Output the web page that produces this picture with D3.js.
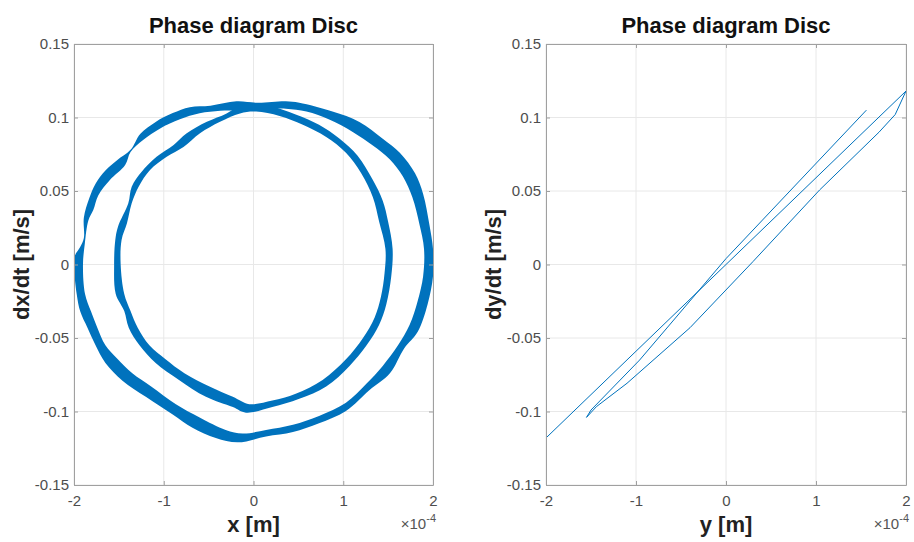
<!DOCTYPE html>
<html>
<head>
<meta charset="utf-8">
<script src="https://cdn.jsdelivr.net/npm/d3@7"></script>
<style>
  body { margin: 0; background: #fff; }
  svg { display: block; font-family: "Liberation Sans", Arial, sans-serif; }
</style>
</head>
<body>
<svg id="chart" width="914" height="542"></svg>
<script>
// positions are in units of 1e-4 m, velocities in m/s
const posTicks = [-2, -1, 0, 1, 2];
const posTickLabels = ['-2', '-1', '0', '1', '2'];
const velTicks = [-0.15, -0.1, -0.05, 0, 0.05, 0.1, 0.15];
const velTickLabels = ['-0.15', '-0.1', '-0.05', '0', '0.05', '0.1', '0.15'];

// x phase plot: envelope of the two thick bands
const bigRingOuter = [
  [-2.00, 0.000], [-1.99, 0.006], [-1.93, 0.012], [-1.89, 0.018], [-1.89, 0.032],
  [-1.83, 0.045], [-1.76, 0.055], [-1.65, 0.064], [-1.52, 0.071], [-1.37, 0.078],
  [-1.26, 0.089], [-1.09, 0.097], [-0.90, 0.103], [-0.71, 0.107], [-0.48, 0.108],
  [-0.19, 0.111], [0.05, 0.110], [0.36, 0.111], [0.51, 0.110], [0.88, 0.104],
  [1.18, 0.097], [1.44, 0.0855], [1.63, 0.076], [1.80, 0.062], [1.89, 0.048],
  [1.96, 0.027], [2.00, 0.0105], [2.00, -0.008], [1.94, -0.027], [1.83, -0.0457],
  [1.68, -0.057], [1.52, -0.074], [1.29, -0.0855], [1.03, -0.0996], [0.73, -0.108],
  [0.44, -0.114], [0.14, -0.117], [-0.18, -0.121], [-0.42, -0.118], [-0.68, -0.111],
  [-0.90, -0.102], [-1.20, -0.090], [-1.46, -0.079], [-1.65, -0.067], [-1.76, -0.055],
  [-1.85, -0.043], [-1.93, -0.032], [-1.97, -0.020]
];
const bigRingInner = [
  [-1.90, 0.000], [-1.88, 0.014], [-1.84, 0.030], [-1.785, 0.037], [-1.73, 0.047],
  [-1.60, 0.0575], [-1.43, 0.0677], [-1.37, 0.0765], [-1.23, 0.0847], [-1.04, 0.0926],
  [-0.82, 0.0988], [-0.60, 0.1029], [-0.37, 0.1046], [-0.18, 0.1048], [0.10, 0.1055],
  [0.36, 0.106], [0.59, 0.104], [0.85, 0.0984], [1.11, 0.090], [1.33, 0.081],
  [1.52, 0.0715], [1.665, 0.0598], [1.77, 0.0457], [1.85, 0.027], [1.90, 0.0105],
  [1.89, -0.008], [1.83, -0.0246], [1.74, -0.041], [1.61, -0.055], [1.44, -0.069],
  [1.26, -0.081], [1.03, -0.094], [0.73, -0.103], [0.44, -0.109], [0.14, -0.1125],
  [-0.12, -0.115], [-0.31, -0.1125], [-0.60, -0.104], [-0.865, -0.095], [-1.14, -0.083],
  [-1.35, -0.074], [-1.52, -0.064], [-1.65, -0.055], [-1.74, -0.043], [-1.81, -0.032],
  [-1.877, -0.020]
];
const smallRingOuter = [
  [-1.553, 0.000], [-1.54, 0.0167], [-1.51, 0.0257], [-1.395, 0.0416], [-1.357, 0.0529],
  [-1.246, 0.0631], [-1.08, 0.0733], [-0.89, 0.0813], [-0.744, 0.0893], [-0.52, 0.0971],
  [-0.30, 0.1028], [-0.15, 0.1085], [-0.084, 0.110], [0.18, 0.108], [0.47, 0.102],
  [0.73, 0.095], [0.96, 0.0855], [1.16, 0.074], [1.33, 0.0574], [1.44, 0.0434],
  [1.50, 0.029], [1.55, 0.0105], [1.535, -0.008], [1.48, -0.027], [1.40, -0.041],
  [1.26, -0.055], [1.07, -0.069], [0.81, -0.083], [0.51, -0.0914], [0.21, -0.097],
  [-0.084, -0.1008], [-0.23, -0.097], [-0.53, -0.090], [-0.83, -0.0785], [-1.09, -0.067],
  [-1.27, -0.055], [-1.39, -0.043], [-1.44, -0.0316], [-1.535, -0.020]
];
const smallRingInner = [
  [-1.48, 0.000], [-1.47, 0.0167], [-1.41, 0.028], [-1.357, 0.0416], [-1.28, 0.0529],
  [-1.153, 0.0643], [-0.967, 0.0733], [-0.78, 0.080], [-0.596, 0.0893], [-0.373, 0.0971],
  [-0.15, 0.1028], [0.028, 0.104], [0.29, 0.101], [0.55, 0.095], [0.81, 0.0867],
  [1.03, 0.076], [1.20, 0.062], [1.33, 0.0457], [1.40, 0.029], [1.47, 0.0105],
  [1.46, -0.006], [1.42, -0.022], [1.35, -0.036], [1.22, -0.050], [1.03, -0.0645],
  [0.77, -0.0785], [0.47, -0.088], [0.21, -0.0926], [-0.047, -0.095], [-0.23, -0.090],
  [-0.49, -0.083], [-0.77, -0.074], [-0.98, -0.0645], [-1.16, -0.055], [-1.29, -0.043],
  [-1.37, -0.0316], [-1.44, -0.020]
];

// y phase plot: one thin trajectory (up, back down, up again)
const yTrajectory = [
  [-2.00, -0.118], [0.00, 0.000], [2.00, 0.118],
  [1.88, 0.102], [1.70, 0.090], [1.04, 0.0507], [0.30, 0.002], [-0.40, -0.043],
  [-1.10, -0.0808], [-1.44, -0.0967], [-1.55, -0.104],
  [-1.50, -0.099], [-0.96, -0.065], [0.00, 0.004], [1.56, 0.105]
];

const blue = '#0072BD';
const svg = d3.select('#chart');
const plotTop = 44, plotBottom = 485;

const panels = [
  { id: 'px', left: 74, right: 433, title: 'Phase diagram Disc', xLabel: 'x [m]', yLabel: 'dx/dt [m/s]' },
  { id: 'py', left: 546, right: 906, title: 'Phase diagram Disc', xLabel: 'y [m]', yLabel: 'dy/dt [m/s]' }
];

function drawPanel(p) {
  const x = d3.scaleLinear().domain([-2, 2]).range([p.left, p.right]);
  const y = d3.scaleLinear().domain([-0.15, 0.15]).range([plotBottom, plotTop]);
  const g = svg.append('g');

  g.append('clipPath').attr('id', 'clip-' + p.id)
    .append('rect').attr('x', p.left).attr('y', plotTop)
    .attr('width', p.right - p.left).attr('height', plotBottom - plotTop);

  // grid
  g.append('g').selectAll('line').data(posTicks).enter().append('line')
    .attr('x1', d => x(d)).attr('x2', d => x(d)).attr('y1', plotTop).attr('y2', plotBottom)
    .attr('stroke', '#e8e8e8');
  g.append('g').selectAll('line').data(velTicks).enter().append('line')
    .attr('y1', d => y(d)).attr('y2', d => y(d)).attr('x1', p.left).attr('x2', p.right)
    .attr('stroke', '#e8e8e8');

  const plot = g.append('g').attr('clip-path', 'url(#clip-' + p.id + ')');

  // axes, ticks pointing inward on all four sides
  const styleAxis = sel => {
    sel.select('.domain').attr('stroke', '#a0a0a0');
    sel.selectAll('.tick line').attr('stroke', '#a0a0a0');
    sel.selectAll('.tick text').attr('fill', '#4d4d4d').style('font-size', '15px')
      .style('font-family', '"Liberation Sans", Arial, sans-serif');
  };
  g.append('g').attr('transform', `translate(0,${plotBottom})`)
    .call(d3.axisBottom(x).tickValues(posTicks).tickFormat((d, i) => posTickLabels[i])
      .tickSize(-4).tickSizeOuter(0).tickPadding(10))
    .call(styleAxis);
  g.append('g').attr('transform', `translate(0,${plotTop})`)
    .call(d3.axisTop(x).tickValues(posTicks).tickFormat('').tickSize(-4).tickSizeOuter(0))
    .call(styleAxis);
  g.append('g').attr('transform', `translate(${p.left},0)`)
    .call(d3.axisLeft(y).tickValues(velTicks).tickFormat((d, i) => velTickLabels[i])
      .tickSize(-4).tickSizeOuter(0).tickPadding(5))
    .call(styleAxis);
  g.append('g').attr('transform', `translate(${p.right},0)`)
    .call(d3.axisRight(y).tickValues(velTicks).tickFormat('').tickSize(-4).tickSizeOuter(0))
    .call(styleAxis);

  const mid = (p.left + p.right) / 2;
  g.append('text').attr('x', mid).attr('y', 33).attr('text-anchor', 'middle')
    .style('font-size', '22px').style('font-weight', 'bold').attr('fill', '#111')
    .text(p.title);
  g.append('text').attr('x', mid).attr('y', 532).attr('text-anchor', 'middle')
    .style('font-size', '22px').style('font-weight', 'bold').attr('fill', '#222')
    .text(p.xLabel);
  g.append('text').attr('transform', `translate(${p.left - 53},${(plotTop + plotBottom) / 2}) rotate(-90)`)
    .attr('dy', '0.35em').attr('text-anchor', 'middle')
    .style('font-size', '22px').style('font-weight', 'bold').attr('fill', '#222')
    .text(p.yLabel);

  // exponent of the position axis
  const ex = g.append('text').attr('x', p.right + 3).attr('y', 529).attr('text-anchor', 'end')
    .attr('fill', '#555').style('font-size', '15px');
  ex.append('tspan').text('\u00d710');
  ex.append('tspan').attr('dy', -7).style('font-size', '11px').text('-4');

  return { x, y, plot };
}

const leftPanel = drawPanel(panels[0]);
const rightPanel = drawPanel(panels[1]);

// thick bands: outer edge + inner edge, even-odd filled
const ringLine = d3.line().x(d => leftPanel.x(d[0])).y(d => leftPanel.y(d[1]))
  .curve(d3.curveCatmullRomClosed.alpha(0.5));
[[bigRingOuter, bigRingInner], [smallRingOuter, smallRingInner]].forEach(([o, i]) => {
  leftPanel.plot.append('path')
    .attr('d', ringLine(o) + ringLine(i))
    .attr('fill', blue).attr('fill-rule', 'evenodd');
});

const trajLine = d3.line().x(d => rightPanel.x(d[0])).y(d => rightPanel.y(d[1]));
rightPanel.plot.append('path')
  .attr('d', trajLine(yTrajectory))
  .attr('fill', 'none').attr('stroke', blue).attr('stroke-width', 1);
</script>
</body>
</html>
